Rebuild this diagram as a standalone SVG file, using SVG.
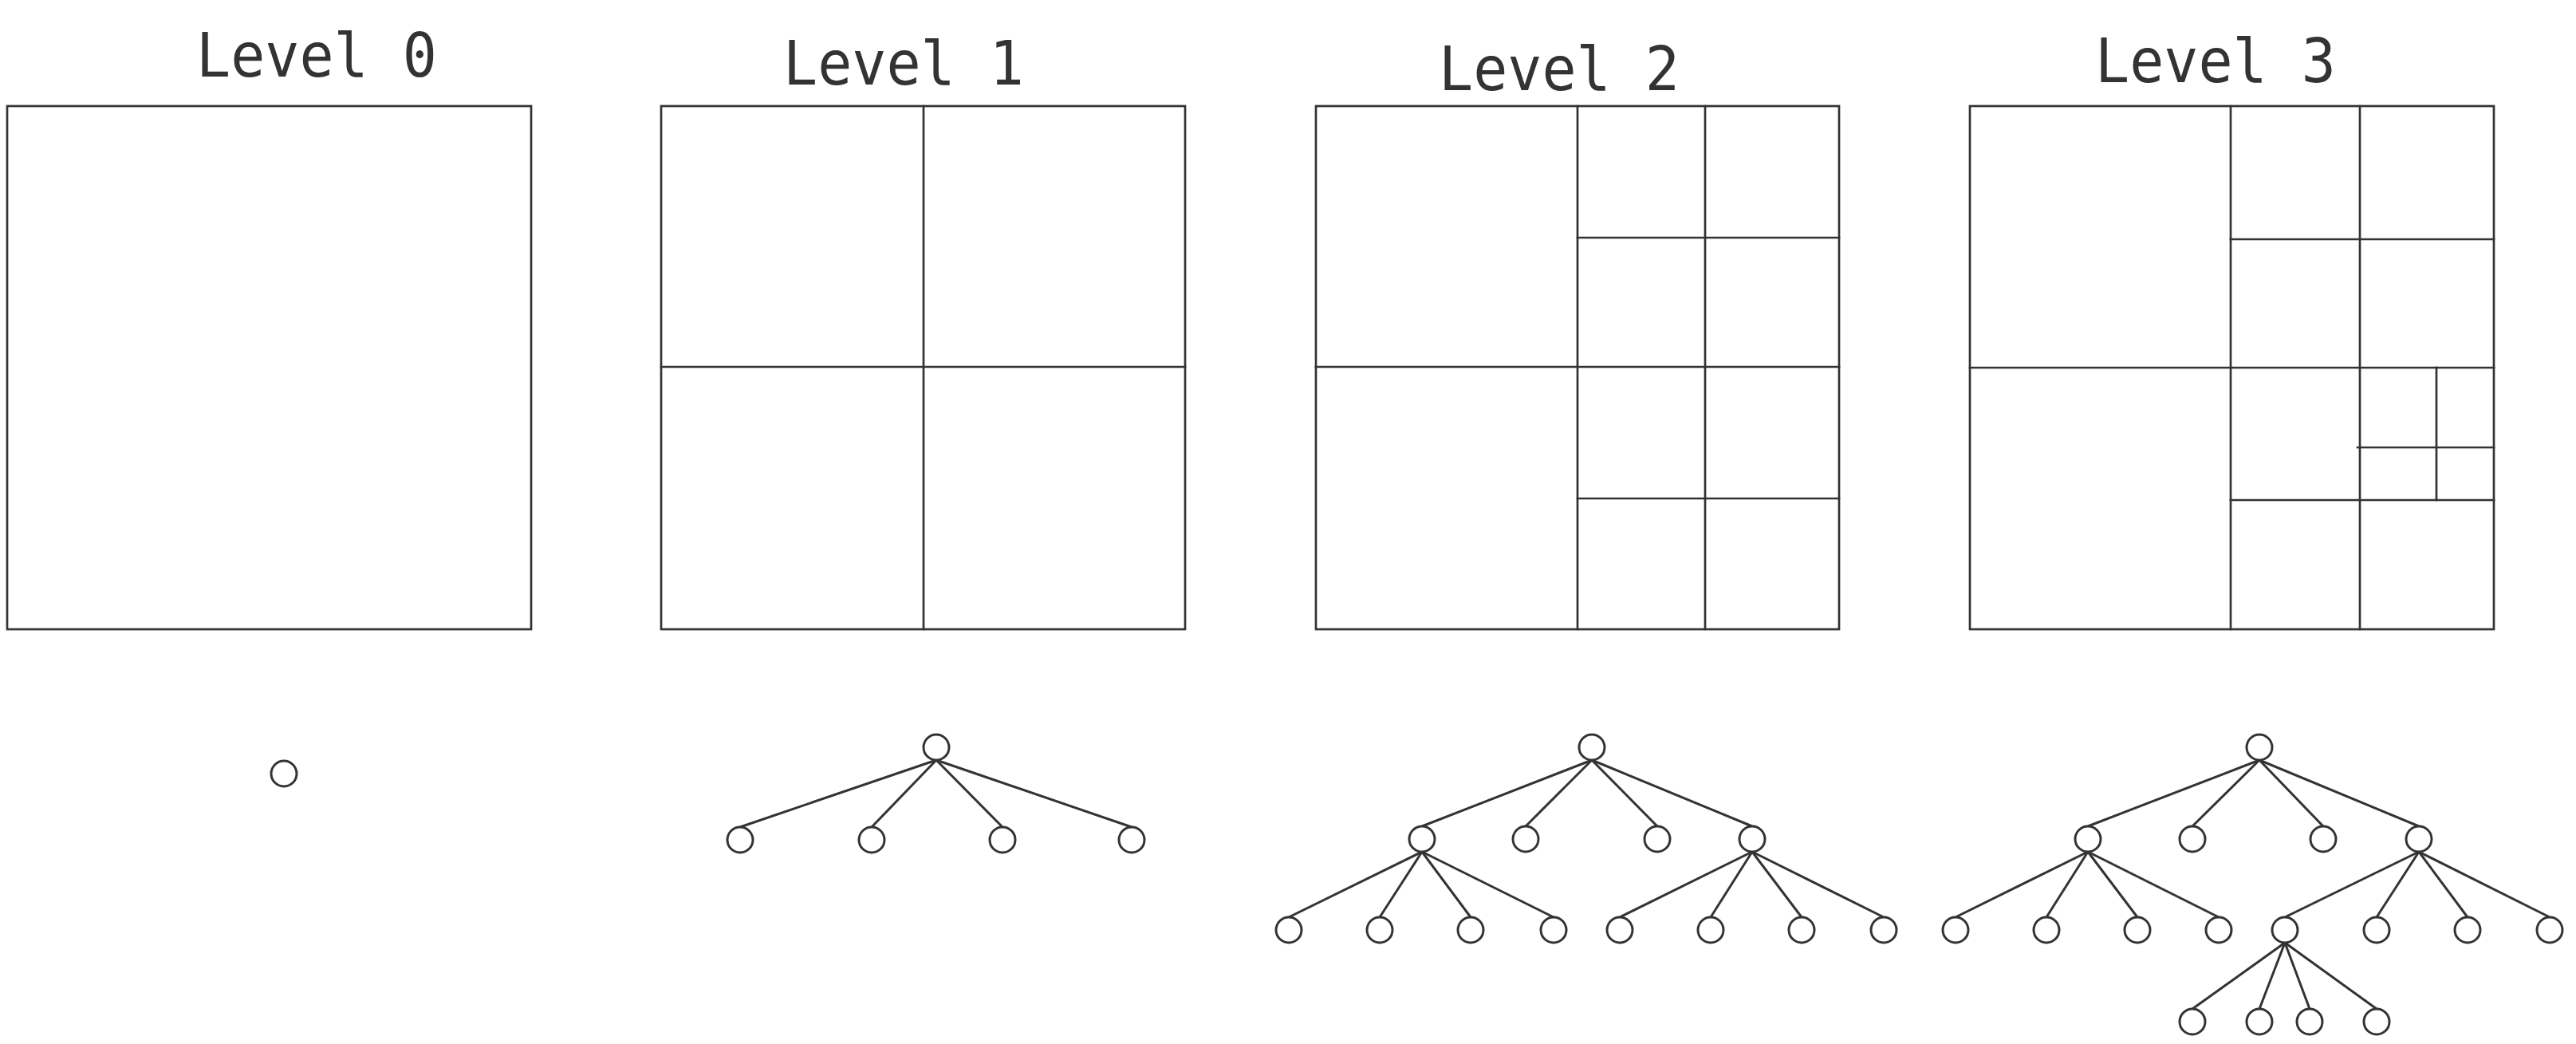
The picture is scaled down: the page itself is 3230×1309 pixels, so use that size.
<svg xmlns="http://www.w3.org/2000/svg" width="3230" height="1309" viewBox="0 0 3230 1309">
<style>
.bg{fill:#ffffff}
.grid{fill:none;stroke:#333333;stroke-width:2.7;stroke-linecap:square}
.edge{stroke:#333333;stroke-width:3;fill:none}
.node{fill:#ffffff;stroke:#333333;stroke-width:3}
.title{font-family:"DejaVu Sans Mono","Liberation Mono",monospace;font-size:77px;fill:#333333;text-anchor:middle}
</style>
<rect class="bg" x="0" y="0" width="3230" height="1309"/>

<g id="titles">
<text class="title" x="397" y="96" textLength="302" lengthAdjust="spacingAndGlyphs">Level 0</text>
<text class="title" x="1133" y="106" textLength="302" lengthAdjust="spacingAndGlyphs">Level 1</text>
<text class="title" x="1955" y="113" textLength="302" lengthAdjust="spacingAndGlyphs">Level 2</text>
<text class="title" x="2778" y="103" textLength="302" lengthAdjust="spacingAndGlyphs">Level 3</text>
</g>

<g id="grid-level0">
<rect class="grid" x="9" y="133" width="657" height="656"/>
</g>

<g id="grid-level1">
<rect class="grid" x="829" y="133" width="657" height="656"/>
<line class="grid" x1="1158" y1="133" x2="1158" y2="789"/>
<line class="grid" x1="829" y1="460" x2="1486" y2="460"/>
</g>

<g id="grid-level2">
<rect class="grid" x="1650" y="133" width="656" height="656"/>
<line class="grid" x1="1978" y1="133" x2="1978" y2="789"/>
<line class="grid" x1="1650" y1="460" x2="2306" y2="460"/>
<line class="grid" x1="2138" y1="133" x2="2138" y2="789"/>
<line class="grid" x1="1978" y1="298" x2="2306" y2="298"/>
<line class="grid" x1="1978" y1="625" x2="2306" y2="625"/>
</g>

<g id="grid-level3">
<rect class="grid" x="2470" y="133" width="657" height="656"/>
<line class="grid" x1="2797" y1="133" x2="2797" y2="789"/>
<line class="grid" x1="2470" y1="461" x2="3127" y2="461"/>
<line class="grid" x1="2959" y1="133" x2="2959" y2="789"/>
<line class="grid" x1="2797" y1="300" x2="3127" y2="300"/>
<line class="grid" x1="2797" y1="627" x2="3127" y2="627"/>
<line class="grid" x1="3055" y1="461" x2="3055" y2="627"/>
<line class="grid" x1="2956" y1="561" x2="3127" y2="561"/>
</g>

<g id="connectors">
<!-- Level 1 -->
<line class="edge" x1="1174" y1="953" x2="928" y2="1037"/>
<line class="edge" x1="1174" y1="953" x2="1093" y2="1037"/>
<line class="edge" x1="1174" y1="953" x2="1257" y2="1037"/>
<line class="edge" x1="1174" y1="953" x2="1419" y2="1037"/>
<!-- Level 2 -->
<line class="edge" x1="1996" y1="953" x2="1783" y2="1036"/>
<line class="edge" x1="1996" y1="953" x2="1913" y2="1036"/>
<line class="edge" x1="1996" y1="953" x2="2078" y2="1036"/>
<line class="edge" x1="1996" y1="953" x2="2197" y2="1036"/>
<line class="edge" x1="1783" y1="1068" x2="1616" y2="1150"/>
<line class="edge" x1="1783" y1="1068" x2="1730" y2="1150"/>
<line class="edge" x1="1783" y1="1068" x2="1844" y2="1150"/>
<line class="edge" x1="1783" y1="1068" x2="1948" y2="1150"/>
<line class="edge" x1="2197" y1="1068" x2="2031" y2="1150"/>
<line class="edge" x1="2197" y1="1068" x2="2145" y2="1150"/>
<line class="edge" x1="2197" y1="1068" x2="2259" y2="1150"/>
<line class="edge" x1="2197" y1="1068" x2="2362" y2="1150"/>
<!-- Level 3 -->
<line class="edge" x1="2833" y1="953" x2="2618" y2="1036"/>
<line class="edge" x1="2833" y1="953" x2="2749" y2="1036"/>
<line class="edge" x1="2833" y1="953" x2="2913" y2="1036"/>
<line class="edge" x1="2833" y1="953" x2="3033" y2="1036"/>
<line class="edge" x1="2618" y1="1068" x2="2452" y2="1150"/>
<line class="edge" x1="2618" y1="1068" x2="2566" y2="1150"/>
<line class="edge" x1="2618" y1="1068" x2="2680" y2="1150"/>
<line class="edge" x1="2618" y1="1068" x2="2782" y2="1150"/>
<line class="edge" x1="3033" y1="1068" x2="2865" y2="1150"/>
<line class="edge" x1="3033" y1="1068" x2="2980" y2="1150"/>
<line class="edge" x1="3033" y1="1068" x2="3094" y2="1150"/>
<line class="edge" x1="3033" y1="1068" x2="3197" y2="1150"/>
<line class="edge" x1="2865" y1="1182" x2="2749" y2="1265"/>
<line class="edge" x1="2865" y1="1182" x2="2833" y2="1265"/>
<line class="edge" x1="2865" y1="1182" x2="2896" y2="1265"/>
<line class="edge" x1="2865" y1="1182" x2="2980" y2="1265"/>
</g>

<g id="tree-level0">
<circle id="n0" class="node" cx="356" cy="970" r="16"/>
</g>

<g id="tree-level1">
<circle id="l1-root" class="node" cx="1174" cy="937" r="16"/>
<circle id="l1-a" class="node" cx="928" cy="1053" r="16"/>
<circle id="l1-b" class="node" cx="1093" cy="1053" r="16"/>
<circle id="l1-c" class="node" cx="1257" cy="1053" r="16"/>
<circle id="l1-d" class="node" cx="1419" cy="1053" r="16"/>
</g>

<g id="tree-level2">
<circle id="l2-root" class="node" cx="1996" cy="937" r="16"/>
<circle id="l2-a" class="node" cx="1783" cy="1052" r="16"/>
<circle id="l2-b" class="node" cx="1913" cy="1052" r="16"/>
<circle id="l2-c" class="node" cx="2078" cy="1052" r="16"/>
<circle id="l2-d" class="node" cx="2197" cy="1052" r="16"/>
<circle id="l2-a1" class="node" cx="1616" cy="1166" r="16"/>
<circle id="l2-a2" class="node" cx="1730" cy="1166" r="16"/>
<circle id="l2-a3" class="node" cx="1844" cy="1166" r="16"/>
<circle id="l2-a4" class="node" cx="1948" cy="1166" r="16"/>
<circle id="l2-d1" class="node" cx="2031" cy="1166" r="16"/>
<circle id="l2-d2" class="node" cx="2145" cy="1166" r="16"/>
<circle id="l2-d3" class="node" cx="2259" cy="1166" r="16"/>
<circle id="l2-d4" class="node" cx="2362" cy="1166" r="16"/>
</g>

<g id="tree-level3">
<circle id="l3-root" class="node" cx="2833" cy="937" r="16"/>
<circle id="l3-a" class="node" cx="2618" cy="1052" r="16"/>
<circle id="l3-b" class="node" cx="2749" cy="1052" r="16"/>
<circle id="l3-c" class="node" cx="2913" cy="1052" r="16"/>
<circle id="l3-d" class="node" cx="3033" cy="1052" r="16"/>
<circle id="l3-a1" class="node" cx="2452" cy="1166" r="16"/>
<circle id="l3-a2" class="node" cx="2566" cy="1166" r="16"/>
<circle id="l3-a3" class="node" cx="2680" cy="1166" r="16"/>
<circle id="l3-a4" class="node" cx="2782" cy="1166" r="16"/>
<circle id="l3-d1" class="node" cx="2865" cy="1166" r="16"/>
<circle id="l3-d2" class="node" cx="2980" cy="1166" r="16"/>
<circle id="l3-d3" class="node" cx="3094" cy="1166" r="16"/>
<circle id="l3-d4" class="node" cx="3197" cy="1166" r="16"/>
<circle id="l3-d1a" class="node" cx="2749" cy="1281" r="16"/>
<circle id="l3-d1b" class="node" cx="2833" cy="1281" r="16"/>
<circle id="l3-d1c" class="node" cx="2896" cy="1281" r="16"/>
<circle id="l3-d1d" class="node" cx="2980" cy="1281" r="16"/>
</g>
</svg>
